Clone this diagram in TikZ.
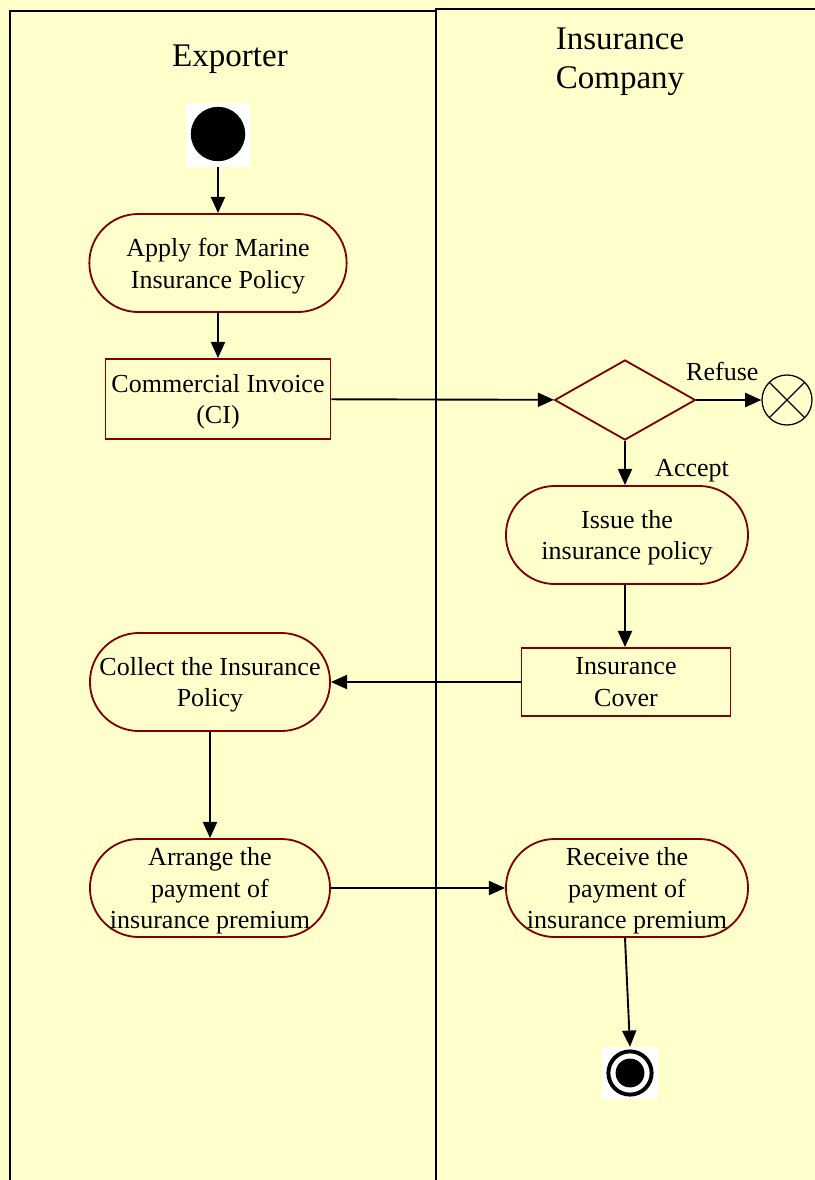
\documentclass[tikz,border=0pt]{standalone}
\usepackage{fontspec}
\setmainfont{Liberation Serif}
\usetikzlibrary{shapes.geometric,arrows.meta}
\definecolor{lanebg}{HTML}{FFFFCC}
\definecolor{boxline}{HTML}{800000}

\begin{document}
\begin{tikzpicture}[x=0.025cm, y=-0.025cm,
	every node/.style={font=\fontsize{18.5}{22.7}\selectfont, align=center},
	header/.style={font=\fontsize{23.5}{27.7}\selectfont},
	lane/.style={line width=1.5pt},
	flow/.style={line width=1.35pt, -{Triangle[length=11.5pt,width=10pt]}},
	activity/.style={draw=boxline, line width=1.3pt, rounded corners=1.22cm, inner sep=0pt, text depth=0pt, minimum height=2.45cm, minimum width=#1},
	object/.style={draw=boxline, line width=1.3pt, inner sep=0pt, text depth=0pt, minimum height=#1},
	choice/.style={diamond, draw=boxline, line width=1.3pt, inner sep=0pt, minimum width=3.52cm, minimum height=2cm},
	stopx/.style={circle, draw, line width=0.9pt, minimum size=1.25cm, inner sep=0pt,
		path picture={\draw[line width=0.9pt] (path picture bounding box.north west) -- (path picture bounding box.south east)
			(path picture bounding box.north east) -- (path picture bounding box.south west);}},
	iconbg/.style={fill=white, inner sep=0pt}]
	\useasboundingbox (0,0) rectangle (815,1180);
	\fill[lanebg] (0,0) rectangle (815,1180);

	% Swimlanes
	\draw[lane] (10,1180) -- (10,11) -- (436,11);
	\draw[lane] (436,1180) -- (436,9) -- (815,9);
	\node[header] (exporter) at (230,59) {Exporter};
	\node[header] (company) at (620,62) {Insurance\\Company};

	% Exporter
	\node[iconbg, minimum width=1.62cm, minimum height=1.6cm] (start) at (218,135) {};
	\fill (218,134) circle (0.68cm);
	\node[activity=6.43cm] (apply) at (218,263) {Apply for Marine\\Insurance Policy};
	\node[object=2cm, minimum width=5.62cm] (invoice) at (218,399) {Commercial Invoice\\(CI)};
	\node[activity=6cm] (collect) at (210,682) {Collect the Insurance\\Policy};
	\node[activity=6cm] (arrange) at (210,888) {Arrange the\\payment of\\insurance premium};

	% Insurance Company
	\node[choice] (check) at (625,400) {};
	\node[stopx] (refuse) at (787,400) {};
	\node[activity=6.05cm] (issue) at (627,535) {Issue the\\insurance policy};
	\node[object=1.7cm, minimum width=5.22cm] (cover) at (626,682) {Insurance\\Cover};
	\node[activity=6.05cm] (receive) at (627,888) {Receive the\\payment of\\insurance premium};
	\node[iconbg, minimum width=1.4cm, minimum height=1.3cm] (end) at (630,1073) {};
	\draw[line width=2.8pt] (end.center) circle (0.54cm);
	\fill (end.center) circle (0.36cm);

	% Flows
	\draw[flow] (start) -- (apply);
	\draw[flow] (apply) -- (invoice);
	\draw[flow] (invoice) -- (check);
	\draw[flow] (check) -- node[pos=0.4, above, yshift=9.8pt] (refuselbl) {Refuse} (refuse);
	\draw[flow] (check.south) -- node[right, xshift=17.5pt, yshift=-5.4pt] (acceptlbl) {Accept} (check.south |- issue.north);
	\draw[flow] (issue.south -| check.south) -- (cover.north -| check.south);
	\draw[flow] (cover) -- (collect);
	\draw[flow] (collect) -- (arrange);
	\draw[flow] (arrange) -- (receive);
	\draw[flow] (receive.south -| check.south) -- (end.north);
\end{tikzpicture}
\end{document}
